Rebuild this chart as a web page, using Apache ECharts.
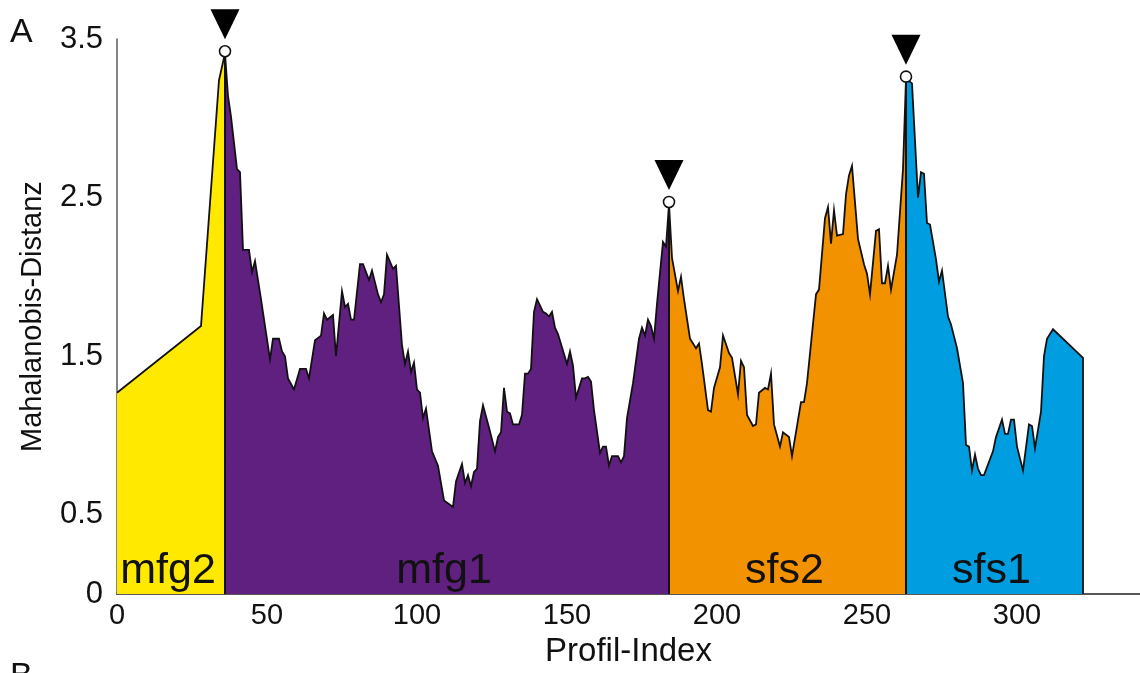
<!DOCTYPE html>
<html>
<head>
<meta charset="utf-8">
<script src="https://cdn.jsdelivr.net/npm/echarts@6/dist/echarts.min.js"></script>
<style>
  html, body { margin: 0; padding: 0; background: #ffffff; }
  #chart { width: 1140px; height: 673px; }
</style>
</head>
<body>
<div id="chart"></div>
<script>
// Axis tick labels that are printed
const xTickLabels = ['0', '50', '100', '150', '200', '250', '300'];
const yTickLabels = ['0', '0.5', '1.5', '2.5', '3.5'];

// Region names along the profile
const regionNames = ['mfg2', 'mfg1', 'sfs2', 'sfs1'];

// Mahalanobis distance per profile index, one array per region: [index, distance]
const mfg2Profile = [[0, 1.27], [28, 1.69], [34, 3.24], [36, 3.41]];

const mfg1Profile = [
  [36, 3.41], [37, 3.14], [38, 3.01], [40, 2.68], [41, 2.66], [42, 2.17], [44, 2.17], [45, 2.03],
  [46, 2.10], [48, 1.86], [51, 1.48], [52, 1.61], [54, 1.61], [55, 1.53], [56, 1.50], [57, 1.36],
  [59, 1.29], [61, 1.42], [63, 1.42], [64, 1.36], [66, 1.60], [68, 1.63], [69, 1.77], [70, 1.73],
  [72, 1.76], [73, 1.50], [75, 1.91], [76, 1.81], [77, 1.83], [78, 1.73], [79, 1.73], [81, 2.08],
  [82, 2.08], [84, 1.98], [85, 2.04], [87, 1.89], [88, 1.84], [89, 1.89], [90, 2.14], [92, 2.05],
  [93, 2.07], [95, 1.57], [96, 1.45], [97, 1.53], [98, 1.40], [99, 1.46], [100, 1.29], [101, 1.27],
  [102, 1.11], [103, 1.17], [105, 0.90], [107, 0.81], [109, 0.59], [112, 0.55], [113, 0.71], [115, 0.82],
  [116, 0.70], [117, 0.75], [118, 0.68], [119, 0.77], [120, 0.79], [121, 1.09], [122, 1.19], [124, 1.05],
  [126, 0.90], [127, 0.99], [128, 1.02], [129, 1.30], [130, 1.15], [131, 1.14], [132, 1.07], [134, 1.07],
  [135, 1.13], [136, 1.39], [137, 1.39], [138, 1.42], [139, 1.78], [140, 1.86], [142, 1.78], [143, 1.77],
  [144, 1.75], [145, 1.78], [146, 1.68], [147, 1.64], [150, 1.45], [151, 1.53], [152, 1.44], [153, 1.24],
  [155, 1.36], [156, 1.36], [157, 1.37], [158, 1.34], [159, 1.16], [161, 0.89], [162, 0.93], [163, 0.93],
  [164, 0.81], [165, 0.87], [167, 0.87], [168, 0.83], [169, 0.87], [170, 1.11], [172, 1.33], [174, 1.61],
  [175, 1.68], [176, 1.63], [177, 1.73], [178, 1.69], [179, 1.61], [180, 1.83], [182, 2.22], [183, 2.19],
  [184, 2.46]
];

const sfs2Profile = [
  [184, 2.46], [185, 2.12], [187, 1.91], [188, 2.00], [189, 1.86], [191, 1.61], [193, 1.55], [194, 1.58],
  [195, 1.45], [197, 1.16], [198, 1.15], [199, 1.30], [201, 1.43], [202, 1.63], [204, 1.52], [205, 1.49],
  [207, 1.26], [208, 1.47], [209, 1.43], [210, 1.13], [212, 1.06], [213, 1.07], [214, 1.27], [216, 1.30],
  [217, 1.29], [218, 1.39], [219, 1.07], [221, 0.93], [222, 1.02], [224, 0.99], [225, 0.87], [228, 1.21],
  [229, 1.21], [230, 1.33], [233, 1.89], [234, 1.92], [236, 2.37], [237, 2.44], [238, 2.21], [239, 2.42],
  [240, 2.26], [242, 2.27], [243, 2.52], [244, 2.64], [245, 2.70], [247, 2.24], [249, 2.08], [250, 2.02],
  [251, 1.89], [253, 2.29], [254, 2.30], [255, 1.96], [256, 1.96], [257, 2.07], [258, 1.92], [260, 2.14],
  [262, 2.68], [263, 3.25]
];

const sfs1Profile = [
  [263, 3.25], [265, 3.22], [267, 2.50], [268, 2.66], [269, 2.65], [270, 2.34], [271, 2.33], [273, 2.11],
  [274, 1.97], [275, 2.04], [277, 1.75], [278, 1.70], [280, 1.55], [282, 1.33], [283, 0.94], [284, 0.93],
  [285, 0.78], [286, 0.88], [287, 0.79], [288, 0.75], [289, 0.75], [292, 0.90], [293, 0.99], [295, 1.10],
  [296, 1.01], [297, 1.01], [298, 1.10], [299, 1.10], [300, 0.93], [302, 0.78], [304, 1.07], [305, 1.06],
  [306, 0.92], [308, 1.15], [309, 1.50], [310, 1.61], [312, 1.67], [322, 1.49]
];

// ---- styling ----
const regionColors = ['#ffe900', '#602080', '#f39200', '#009ee0'];
const FONT = '"Liberation Sans", Arial, Helvetica, sans-serif';
const INK = '#111111';

const profiles = [mfg2Profile, mfg1Profile, sfs2Profile, sfs1Profile];

// Each region is a closed area: vertical edges at its boundaries (except at the y axis)
const regionSeries = profiles.map((prof, i) => {
  const first = prof[0][0];
  const last = prof[prof.length - 1][0];
  const data = (i === 0 ? [] : [[first, 0]]).concat(prof, [[last, 0]]);
  return {
    type: 'line',
    name: regionNames[i],
    data: data,
    showSymbol: false,
    symbol: 'none',
    smooth: false,
    lineStyle: { color: '#111', width: 1.8, join: 'miter' },
    areaStyle: { color: regionColors[i], opacity: 1, origin: 'start' },
    z: 2,
    silent: true
  };
});

// Boundary peaks: the last point of each of the first three regions
const peaks = profiles.slice(0, 3).map(p => p[p.length - 1]);

// Region name labels centred on each region's index range
const regionLabels = profiles.map((prof, i) => ({
  name: regionNames[i],
  value: [(prof[0][0] + prof[prof.length - 1][0]) / 2, 0]
}));

const chart = echarts.init(document.getElementById('chart'), null, { renderer: 'canvas' });

chart.setOption({
  animation: false,
  backgroundColor: '#ffffff',
  textStyle: { fontFamily: FONT },
  grid: { left: 117, right: 0, top: 39, bottom: 71, containLabel: false },
  xAxis: {
    type: 'value',
    min: 0,
    max: 341,
    interval: 50,
    name: 'Profil-Index',
    nameLocation: 'middle',
    nameGap: 36,
    nameTextStyle: { fontSize: 33, color: INK, fontFamily: FONT },
    axisLine: { show: true, lineStyle: { color: '#222', width: 1.6 } },
    axisTick: { show: false },
    splitLine: { show: false },
    axisLabel: {
      fontSize: 29,
      color: INK,
      fontFamily: FONT,
      margin: 7,
      showMaxLabel: false,
      formatter: v => (xTickLabels.includes(String(v)) ? String(v) : '')
    }
  },
  yAxis: {
    type: 'value',
    min: 0,
    max: 3.5,
    interval: 0.5,
    name: 'Mahalanobis-Distanz',
    nameLocation: 'middle',
    nameGap: 70,
    nameTextStyle: { fontSize: 29, color: INK, fontFamily: FONT },
    axisLine: { show: true, lineStyle: { color: '#666', width: 1.6 } },
    axisTick: { show: false },
    splitLine: { show: false },
    axisLabel: {
      fontSize: 31,
      color: INK,
      fontFamily: FONT,
      margin: 14,
      formatter: v => (yTickLabels.includes(String(v)) ? String(v) : '')
    }
  },
  series: regionSeries.concat([
    {
      type: 'scatter',
      name: 'peak-circle',
      data: peaks,
      symbol: 'circle',
      symbolSize: 11,
      symbolOffset: [0, -2],
      itemStyle: { color: '#ffffff', borderColor: '#111', borderWidth: 1.6, opacity: 1 },
      z: 5,
      silent: true
    },
    {
      type: 'scatter',
      name: 'peak-arrow',
      data: peaks,
      symbol: 'triangle',
      symbolSize: [29, 30],
      symbolRotate: 180,
      symbolOffset: [0, -29],
      itemStyle: { color: '#000000', opacity: 1 },
      z: 5,
      silent: true
    },
    {
      type: 'scatter',
      name: 'region-names',
      data: regionLabels,
      symbolSize: 1,
      itemStyle: { color: 'rgba(0,0,0,0)', opacity: 1 },
      label: {
        show: true,
        position: 'inside',
        offset: [-3, -23],
        formatter: '{b}',
        fontSize: 43,
        color: INK,
        fontFamily: FONT
      },
      z: 6,
      silent: true
    }
  ]),
  graphic: [
    { type: 'text', left: 10, top: 16, style: { text: 'A', fontSize: 34, fill: INK, fontFamily: FONT } },
    { type: 'text', left: 10, top: 660, style: { text: 'B', fontSize: 34, fill: INK, fontFamily: FONT } }
  ]
});
</script>
</body>
</html>
